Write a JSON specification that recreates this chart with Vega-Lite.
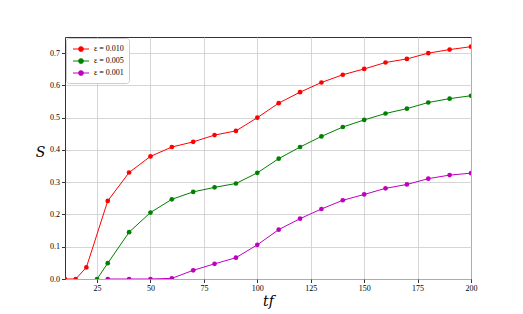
{
  "$schema": "https://vega.github.io/schema/vega-lite/v6.json",
  "width": 406,
  "height": 242,
  "autosize": "none",
  "padding": {"left": 65, "top": 37, "right": 52, "bottom": 35},
  "background": "white",
  "config": {
    "font": "Liberation Serif",
    "view": {"stroke": "#333333", "strokeWidth": 1},
    "axis": {
      "domain": false,
      "grid": true,
      "gridColor": "#cccccc",
      "gridWidth": 0.8,
      "tickColor": "#000000",
      "tickSize": 3.5,
      "tickWidth": 0.8,
      "labelFont": "Liberation Serif",
      "labelFontSize": 8,
      "labelColor": "#000000",
      "titleFont": "DejaVu Serif",
      "titleFontWeight": "normal",
      "titleFontStyle": "italic",
      "titleColor": "#000000"
    }
  },
  "data": {
    "values": [
      {"t": 10, "S": 0.0, "eps": "ε = 0.010"},
      {"t": 15, "S": 0.0, "eps": "ε = 0.010"},
      {"t": 20, "S": 0.036, "eps": "ε = 0.010"},
      {"t": 30, "S": 0.242, "eps": "ε = 0.010"},
      {"t": 40, "S": 0.33, "eps": "ε = 0.010"},
      {"t": 50, "S": 0.38, "eps": "ε = 0.010"},
      {"t": 60, "S": 0.409, "eps": "ε = 0.010"},
      {"t": 70, "S": 0.425, "eps": "ε = 0.010"},
      {"t": 80, "S": 0.446, "eps": "ε = 0.010"},
      {"t": 90, "S": 0.459, "eps": "ε = 0.010"},
      {"t": 100, "S": 0.5, "eps": "ε = 0.010"},
      {"t": 110, "S": 0.545, "eps": "ε = 0.010"},
      {"t": 120, "S": 0.579, "eps": "ε = 0.010"},
      {"t": 130, "S": 0.609, "eps": "ε = 0.010"},
      {"t": 140, "S": 0.633, "eps": "ε = 0.010"},
      {"t": 150, "S": 0.651, "eps": "ε = 0.010"},
      {"t": 160, "S": 0.671, "eps": "ε = 0.010"},
      {"t": 170, "S": 0.682, "eps": "ε = 0.010"},
      {"t": 180, "S": 0.7, "eps": "ε = 0.010"},
      {"t": 190, "S": 0.711, "eps": "ε = 0.010"},
      {"t": 200, "S": 0.72, "eps": "ε = 0.010"},
      {"t": 25, "S": 0.0, "eps": "ε = 0.005"},
      {"t": 30, "S": 0.049, "eps": "ε = 0.005"},
      {"t": 40, "S": 0.145, "eps": "ε = 0.005"},
      {"t": 50, "S": 0.206, "eps": "ε = 0.005"},
      {"t": 60, "S": 0.247, "eps": "ε = 0.005"},
      {"t": 70, "S": 0.27, "eps": "ε = 0.005"},
      {"t": 80, "S": 0.284, "eps": "ε = 0.005"},
      {"t": 90, "S": 0.296, "eps": "ε = 0.005"},
      {"t": 100, "S": 0.329, "eps": "ε = 0.005"},
      {"t": 110, "S": 0.373, "eps": "ε = 0.005"},
      {"t": 120, "S": 0.409, "eps": "ε = 0.005"},
      {"t": 130, "S": 0.442, "eps": "ε = 0.005"},
      {"t": 140, "S": 0.471, "eps": "ε = 0.005"},
      {"t": 150, "S": 0.493, "eps": "ε = 0.005"},
      {"t": 160, "S": 0.513, "eps": "ε = 0.005"},
      {"t": 170, "S": 0.528, "eps": "ε = 0.005"},
      {"t": 180, "S": 0.547, "eps": "ε = 0.005"},
      {"t": 190, "S": 0.559, "eps": "ε = 0.005"},
      {"t": 200, "S": 0.568, "eps": "ε = 0.005"},
      {"t": 30, "S": 0.0, "eps": "ε = 0.001"},
      {"t": 40, "S": 0.0, "eps": "ε = 0.001"},
      {"t": 50, "S": 0.0, "eps": "ε = 0.001"},
      {"t": 60, "S": 0.002, "eps": "ε = 0.001"},
      {"t": 70, "S": 0.027, "eps": "ε = 0.001"},
      {"t": 80, "S": 0.047, "eps": "ε = 0.001"},
      {"t": 90, "S": 0.066, "eps": "ε = 0.001"},
      {"t": 100, "S": 0.106, "eps": "ε = 0.001"},
      {"t": 110, "S": 0.153, "eps": "ε = 0.001"},
      {"t": 120, "S": 0.187, "eps": "ε = 0.001"},
      {"t": 130, "S": 0.217, "eps": "ε = 0.001"},
      {"t": 140, "S": 0.244, "eps": "ε = 0.001"},
      {"t": 150, "S": 0.262, "eps": "ε = 0.001"},
      {"t": 160, "S": 0.281, "eps": "ε = 0.001"},
      {"t": 170, "S": 0.293, "eps": "ε = 0.001"},
      {"t": 180, "S": 0.311, "eps": "ε = 0.001"},
      {"t": 190, "S": 0.322, "eps": "ε = 0.001"},
      {"t": 200, "S": 0.328, "eps": "ε = 0.001"}
    ]
  },
  "mark": {"type": "line", "strokeWidth": 1, "clip": true, "point": {"filled": true, "size": 22}},
  "encoding": {
    "x": {
      "field": "t",
      "type": "quantitative",
      "scale": {"domain": [10, 200], "nice": false, "zero": false},
      "axis": {"values": [25, 50, 75, 100, 125, 150, 175, 200], "title": "tf", "titleFontSize": 14, "titlePadding": 2, "labelFlush": false}
    },
    "y": {
      "field": "S",
      "type": "quantitative",
      "scale": {"domain": [0, 0.75], "nice": false},
      "axis": {"values": [0, 0.1, 0.2, 0.3, 0.4, 0.5, 0.6, 0.7], "format": ".1f", "title": "S", "titleFontSize": 14, "titleAngle": 0, "titleX": -25, "titleY": 115, "titleAlign": "center", "titleBaseline": "middle", "labelFlush": false}
    },
    "color": {
      "field": "eps",
      "type": "nominal",
      "scale": {"domain": ["ε = 0.010", "ε = 0.005", "ε = 0.001"], "range": ["#ff0000", "#008000", "#bf00bf"]},
      "legend": {
        "title": null,
        "orient": "top-left",
        "offset": 1,
        "padding": 5,
        "fillColor": "white",
        "strokeColor": "#cccccc",
        "cornerRadius": 3,
        "labelFont": "Liberation Serif",
        "labelFontSize": 8,
        "labelFontWeight": "normal",
        "labelColor": "#000000",
        "labelOffset": 7,
        "rowPadding": 1,
        "symbolSize": 100,
        "symbolOffset": 4,
        "symbolType": "M-1.6,0L1.6,0M0.45,0A0.45,0.45 0 1,1 -0.45,0A0.45,0.45 0 1,1 0.45,0Z",
        "symbolStrokeWidth": 1.2,
        "encode": {"symbols": {"update": {"fill": {"scale": "color", "field": "value"}, "stroke": {"scale": "color", "field": "value"}, "opacity": {"value": 1}}}}
      }
    }
  }
}
